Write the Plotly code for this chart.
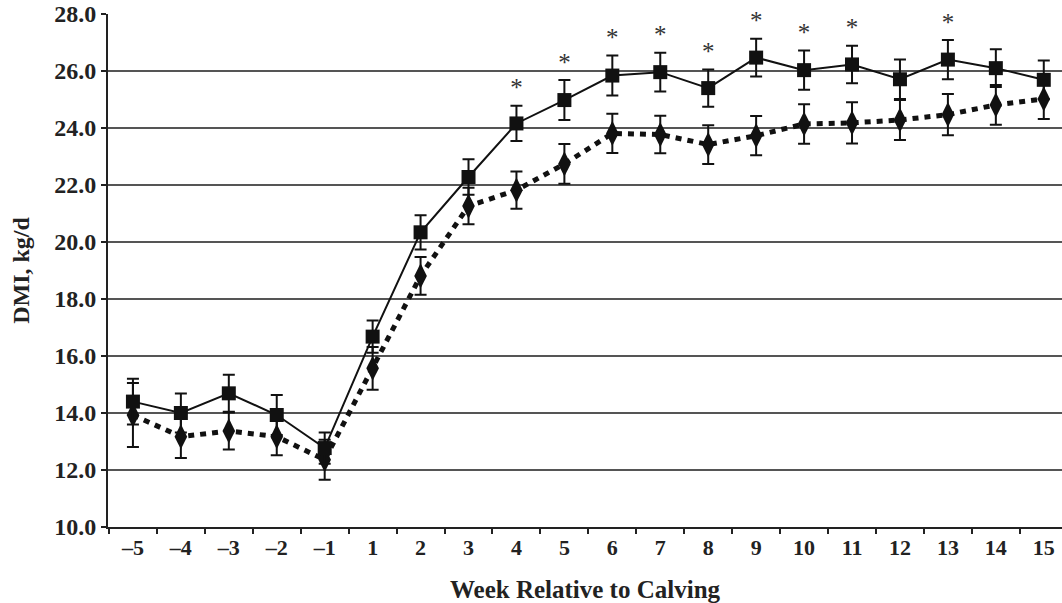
import plotly.graph_objects as go

weeks = ["\u20135", "\u20134", "\u20133", "\u20132", "\u20131", "1", "2", "3", "4", "5",
         "6", "7", "8", "9", "10", "11", "12", "13", "14", "15"]

square_mean = [14.40, 14.00, 14.69, 13.93, 12.77, 16.68, 20.34, 22.28, 24.16, 24.98,
               25.84, 25.96, 25.40, 26.47, 26.03, 26.23, 25.71, 26.40, 26.10, 25.69]
square_se = [0.80, 0.68, 0.65, 0.70, 0.55, 0.57, 0.60, 0.62, 0.62, 0.70,
             0.70, 0.68, 0.65, 0.66, 0.69, 0.66, 0.69, 0.69, 0.66, 0.68]

diamond_mean = [13.93, 13.17, 13.37, 13.17, 12.36, 15.57, 18.81, 21.26, 21.82, 22.74,
                23.81, 23.77, 23.42, 23.73, 24.14, 24.18, 24.28, 24.47, 24.81, 25.02]
diamond_se = [1.12, 0.75, 0.65, 0.65, 0.70, 0.75, 0.66, 0.64, 0.65, 0.70,
              0.69, 0.66, 0.68, 0.69, 0.69, 0.72, 0.70, 0.72, 0.70, 0.70]

star_weeks = ["4", "5", "6", "7", "8", "9", "10", "11", "13"]

FONT = "Liberation Serif"

fig = go.Figure()

fig.add_trace(go.Scatter(
    x=weeks, y=diamond_mean, mode="lines+markers",
    line=dict(color="#111111", width=5, dash="6px,6px"),
    marker=dict(symbol="diamond-tall", size=18, color="#111111"),
    error_y=dict(type="data", array=diamond_se, visible=True,
                 color="#111111", thickness=2, width=6),
    showlegend=False, cliponaxis=False,
))

fig.add_trace(go.Scatter(
    x=weeks, y=square_mean, mode="lines+markers",
    line=dict(color="#111111", width=2),
    marker=dict(symbol="square", size=14, color="#111111"),
    error_y=dict(type="data", array=square_se, visible=True,
                 color="#111111", thickness=2, width=6),
    showlegend=False, cliponaxis=False,
))

idx = {w: i for i, w in enumerate(weeks)}
star_y = [square_mean[idx[w]] + square_se[idx[w]] + 0.55 for w in star_weeks]
fig.add_trace(go.Scatter(
    x=star_weeks, y=star_y, mode="text", text=["*"] * len(star_weeks),
    textfont=dict(family=FONT, size=25, color="#333333"),
    textposition="middle center", showlegend=False, cliponaxis=False,
))

fig.update_layout(
    width=1062, height=603,
    margin=dict(l=108, r=0, t=14, b=76),
    paper_bgcolor="white", plot_bgcolor="white",
    font=dict(family=FONT, size=22, color="#222222"),
    xaxis=dict(
        type="category", categoryorder="array", categoryarray=weeks,
        range=[-0.52, 19.38], tickson="boundaries",
        ticks="outside", ticklen=5, tickwidth=2, tickcolor="#222222",
        showline=True, linecolor="#222222", linewidth=2,
        showgrid=False, zeroline=False,
        tickfont=dict(family=FONT, size=22, color="#222222", weight="bold"),
        title=dict(text="<b>Week Relative to Calving</b>", standoff=21,
                   font=dict(family=FONT, size=25, color="#222222")),
    ),
    yaxis=dict(
        range=[10, 28], dtick=2, tick0=10, tickformat=".1f",
        ticks="outside", ticklen=5, tickwidth=2, tickcolor="#222222",
        showline=True, linecolor="#222222", linewidth=2,
        showgrid=True, gridcolor="#555555", gridwidth=2,
        zeroline=False,
        tickfont=dict(family=FONT, size=24, color="#222222", weight="bold"),
        title=dict(text="<b>DMI, kg/d</b>", standoff=18,
                   font=dict(family=FONT, size=24, color="#222222")),
    ),
)

fig.write_html("out.html")
